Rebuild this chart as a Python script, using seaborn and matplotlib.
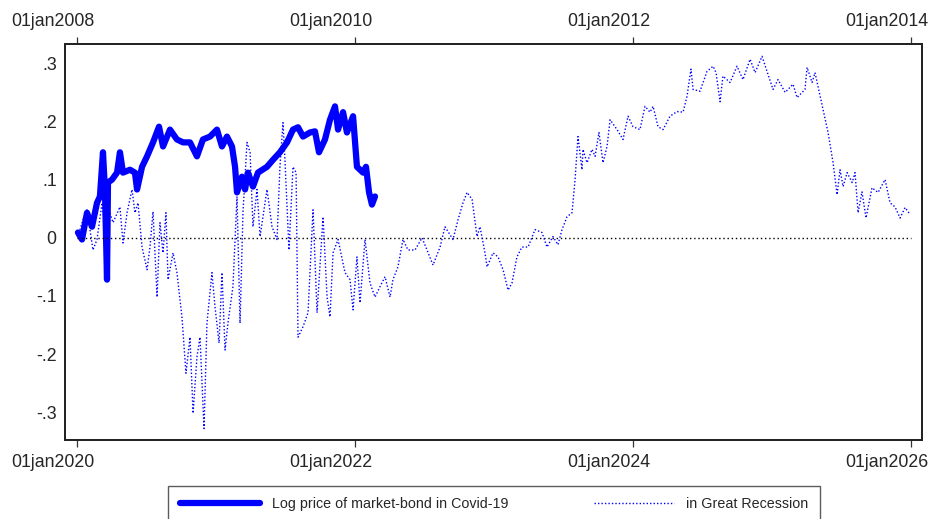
import matplotlib
matplotlib.use("Agg")
import matplotlib.pyplot as plt
import matplotlib.transforms as mtransforms
import seaborn as sns
import pandas as pd

# Covid-19 episode: years since 01jan2020 and log price of market-bond
covid_t = [0.007, 0.036, 0.072, 0.108, 0.144, 0.165, 0.187, 0.201, 0.216, 0.223,
           0.252, 0.288, 0.309, 0.331, 0.381, 0.417, 0.432, 0.468, 0.504, 0.547,
           0.590, 0.619, 0.669, 0.719, 0.763, 0.813, 0.863, 0.906, 0.957, 1.007,
           1.043, 1.079, 1.115, 1.137, 1.151, 1.187, 1.209, 1.230, 1.266, 1.302,
           1.367, 1.410, 1.460, 1.511, 1.554, 1.590, 1.626, 1.676, 1.712, 1.741,
           1.784, 1.820, 1.856, 1.878, 1.914, 1.942, 1.986, 2.014, 2.058, 2.079,
           2.101, 2.122, 2.144]
covid_v = [0.009, -0.003, 0.043, 0.019, 0.060, 0.071, 0.147, 0.083, -0.072, 0.095,
           0.100, 0.112, 0.147, 0.112, 0.117, 0.112, 0.083, 0.122, 0.140, 0.164,
           0.191, 0.157, 0.186, 0.169, 0.164, 0.164, 0.140, 0.169, 0.174, 0.186,
           0.157, 0.174, 0.157, 0.122, 0.078, 0.105, 0.083, 0.112, 0.088, 0.112,
           0.122, 0.134, 0.147, 0.164, 0.186, 0.190, 0.174, 0.181, 0.183, 0.147,
           0.169, 0.203, 0.226, 0.186, 0.216, 0.181, 0.209, 0.122, 0.112, 0.122,
           0.078, 0.057, 0.071]

# Great Recession episode: years since 01jan2008 and log price
rec_t = [0.007, 0.043, 0.072, 0.115, 0.144, 0.180, 0.201, 0.237, 0.259, 0.309,
         0.331, 0.360, 0.396, 0.417, 0.439, 0.468, 0.504, 0.525, 0.547, 0.576,
         0.597, 0.619, 0.640, 0.655, 0.691, 0.719, 0.755, 0.784, 0.813, 0.835,
         0.863, 0.885, 0.914, 0.935, 0.971, 0.993, 1.022, 1.043, 1.065, 1.086,
         1.122, 1.151, 1.173, 1.194, 1.223, 1.245, 1.266, 1.295, 1.317, 1.367,
         1.403, 1.439, 1.460, 1.482, 1.496, 1.525, 1.554, 1.576, 1.590, 1.626,
         1.662, 1.698, 1.727, 1.770, 1.799, 1.820, 1.842, 1.878, 1.928, 1.964,
         1.986, 2.014, 2.036, 2.072, 2.108, 2.144, 2.180, 2.216, 2.252, 2.273,
         2.309, 2.345, 2.381, 2.432, 2.482, 2.518, 2.561, 2.612, 2.647, 2.705,
         2.741, 2.777, 2.806, 2.842, 2.878, 2.899, 2.935, 2.950, 2.993, 3.029,
         3.065, 3.101, 3.129, 3.165, 3.201, 3.245, 3.295, 3.345, 3.381, 3.424,
         3.460, 3.489, 3.525, 3.561, 3.583, 3.604, 3.633, 3.640, 3.669, 3.705,
         3.727, 3.755, 3.784, 3.813, 3.835, 3.885, 3.928, 3.964, 4.000, 4.050,
         4.086, 4.122, 4.144, 4.180, 4.216, 4.266, 4.317, 4.360, 4.388, 4.417,
         4.432, 4.482, 4.532, 4.576, 4.597, 4.626, 4.647, 4.698, 4.748, 4.791,
         4.842, 4.878, 4.928, 4.964, 5.007, 5.043, 5.094, 5.151, 5.180, 5.237,
         5.252, 5.288, 5.309, 5.331, 5.367, 5.403, 5.439, 5.468, 5.489, 5.511,
         5.540, 5.576, 5.597, 5.619, 5.647, 5.676, 5.719, 5.763, 5.813, 5.849,
         5.885, 5.921, 5.957, 5.993]
rec_v = [0.002, 0.031, 0.048, -0.021, -0.003, 0.060, 0.019, 0.043, 0.026, 0.053,
         -0.009, 0.043, 0.083, 0.043, 0.060, -0.016, -0.055, -0.016, 0.045, -0.102,
         0.026, -0.026, 0.043, -0.072, -0.026, -0.060, -0.136, -0.233, -0.171, -0.302,
         -0.205, -0.171, -0.328, -0.147, -0.060, -0.119, -0.181, -0.060, -0.193, -0.147,
         -0.084, 0.071, -0.147, 0.043, 0.164, 0.147, 0.019, 0.083, 0.002, 0.083,
         0.019, -0.003, 0.122, 0.198, 0.134, -0.021, 0.122, 0.112, -0.171, -0.153,
         -0.129, 0.048, -0.129, 0.036, -0.102, -0.136, -0.026, -0.003, -0.060, -0.072,
         -0.124, -0.033, -0.112, -0.003, -0.078, -0.102, -0.084, -0.067, -0.102, -0.072,
         -0.050, -0.003, -0.021, -0.021, 0.000, -0.021, -0.047, -0.016, 0.019, -0.003,
         0.031, 0.060, 0.078, 0.066, 0.002, 0.019, -0.026, -0.050, -0.026, -0.033,
         -0.055, -0.090, -0.078, -0.033, -0.016, -0.016, 0.014, 0.009, -0.016, 0.002,
         -0.012, 0.014, 0.036, 0.043, 0.100, 0.174, 0.117, 0.152, 0.129, 0.152,
         0.140, 0.181, 0.129, 0.157, 0.203, 0.186, 0.169, 0.209, 0.191, 0.186,
         0.226, 0.216, 0.226, 0.191, 0.186, 0.209, 0.217, 0.216, 0.243, 0.290,
         0.255, 0.252, 0.286, 0.295, 0.284, 0.234, 0.278, 0.267, 0.295, 0.272,
         0.307, 0.284, 0.312, 0.286, 0.255, 0.272, 0.250, 0.264, 0.241, 0.255,
         0.293, 0.267, 0.284, 0.260, 0.221, 0.181, 0.129, 0.074, 0.117, 0.088,
         0.112, 0.095, 0.112, 0.043, 0.079, 0.034, 0.086, 0.078, 0.100, 0.060,
         0.053, 0.034, 0.052, 0.040]

bottom_years = [2020, 2022, 2024, 2026]
top_years = [2008, 2010, 2012, 2014]
y_ticks = [0.3, 0.2, 0.1, 0.0, -0.1, -0.2, -0.3]
y_labels = [".3", ".2", ".1", "0", "-.1", "-.2", "-.3"]

covid = pd.DataFrame({"year": [2020 + t for t in covid_t], "logp": covid_v})
rec = pd.DataFrame({"year": [2008 + t for t in rec_t], "logp": rec_v})

sns.set_style("white")
plt.rcParams["font.family"] = ["Liberation Sans", "DejaVu Sans"]

fig = plt.figure(figsize=(9.29, 5.19), dpi=100)
ax = fig.add_axes([0.070, 0.152, 0.9225, 0.763])

sns.lineplot(data=covid, x="year", y="logp", ax=ax, color="#0000ff",
             linewidth=4.5, solid_joinstyle="round", solid_capstyle="round",
             label="Log price of market-bond in Covid-19", legend=False)
ax.hlines(0, 2020, 2026, colors="black", linestyles=(0, (1, 2)), linewidth=1)

ax.set_xlim(2019.914, 2026.079)
ax.set_ylim(-0.348, 0.333)
ax.set_xticks(bottom_years)
ax.set_xticklabels(["01jan%d" % y for y in bottom_years])
ax.set_yticks(y_ticks)
ax.set_yticklabels(y_labels)
ax.set_xlabel("")
ax.set_ylabel("")

ax2 = ax.twiny()
sns.lineplot(data=rec, x="year", y="logp", ax=ax2, color="#0000ff",
             linewidth=1.0, linestyle=(0, (1, 1.5)),
             label="in Great Recession", legend=False)
ax2.set_xlim(2007.914, 2014.079)
ax2.set_xticks(top_years)
ax2.set_xticklabels(["01jan%d" % y for y in top_years])
ax2.set_xlabel("")

for a in (ax, ax2):
    for s in a.spines.values():
        s.set_color("#222222")
        s.set_linewidth(1.3)
    a.tick_params(axis="both", direction="out", length=5, width=0.9,
                  color="#333333", labelsize=12.8, pad=3)
ax.tick_params(axis="y", pad=1)
ax.tick_params(axis="x", pad=5)
ax2.tick_params(axis="x", pad=5)

# date labels sit a little left of their ticks, as in the original
shift = mtransforms.ScaledTranslation(-0.24, 0, fig.dpi_scale_trans)
for a in (ax, ax2):
    for tick in a.xaxis.get_major_ticks():
        tick.label1.set_transform(tick.label1.get_transform() + shift)
        tick.label2.set_transform(tick.label2.get_transform() + shift)

h1, l1 = ax.get_legend_handles_labels()
h2, l2 = ax2.get_legend_handles_labels()
leg = fig.legend(h1 + h2, l1 + l2, loc="upper center", bbox_to_anchor=(0.532, 0.0636),
                 ncol=2, fontsize=10.3, frameon=True, fancybox=False,
                 handlelength=5.6, handletextpad=0.84, columnspacing=6.0,
                 borderpad=0.8, borderaxespad=0)
leg.get_frame().set_edgecolor("#333333")
leg.get_frame().set_linewidth(1.0)

fig.savefig("out.png", dpi=100)
